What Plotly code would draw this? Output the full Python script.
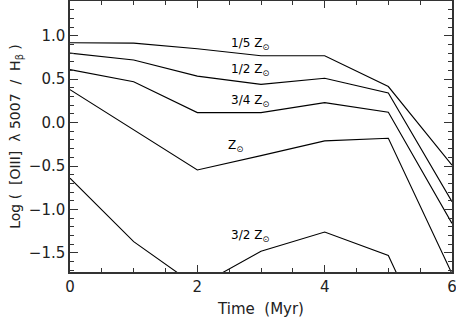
import plotly.graph_objects as go

time = [0, 1, 2, 3, 4, 5, 6]
z_1_5 = [0.92, 0.915, 0.85, 0.77, 0.77, 0.415, -0.49]
z_1_2 = [0.80, 0.72, 0.535, 0.44, 0.51, 0.34, -0.91]
z_3_4 = [0.61, 0.47, 0.115, 0.115, 0.23, 0.12, -1.16]
z_1 = [0.38, -0.08, -0.545, -0.38, -0.21, -0.18, -1.74]
z_3_2 = [-0.64, -1.37, -1.89, -1.48, -1.26, -1.53, -3.1]

labels = ["1/5 Z<sub>⊙</sub>", "1/2 Z<sub>⊙</sub>", "3/4 Z<sub>⊙</sub>", "Z<sub>⊙</sub>", "3/2 Z<sub>⊙</sub>"]
label_x = [2.82, 2.82, 2.82, 2.6, 2.82]
label_y = [0.91, 0.60, 0.25, -0.27, -1.31]

FONT = "DejaVu Sans, Verdana, sans-serif"
NB = "\u00a0"

fig = go.Figure()
for ys in [z_1_5, z_1_2, z_3_4, z_1, z_3_2]:
    fig.add_trace(go.Scatter(x=time, y=ys, mode="lines",
                             line=dict(color="black", width=1.1),
                             showlegend=False, hoverinfo="skip"))

for t, lx, ly in zip(labels, label_x, label_y):
    fig.add_annotation(x=lx, y=ly, text=t, showarrow=False,
                       font=dict(size=12, color="black", family=FONT))

axis_common = dict(
    showgrid=False, zeroline=False, showline=True, linecolor="#333",
    linewidth=1.5, mirror="allticks", ticks="inside", tickcolor="#333",
    tickfont=dict(size=15, color="#222", family=FONT),
    ticklabeloverflow="allow", automargin=False,
)

fig.update_xaxes(range=[0, 6], tickvals=[0, 2, 4, 6], ticklen=7,
                 minor=dict(dtick=0.5, ticks="inside", ticklen=4, tickcolor="#333"),
                 title=dict(text="Time" + NB + NB + "(Myr)", standoff=9,
                            font=dict(size=15, color="#222", family=FONT)),
                 **axis_common)
ytitle = ("Log" + NB + "(" + NB + NB + "[OIII]" + NB + NB + "λ" + NB + "5007" + NB + NB + "/"
          + NB + NB + "H<sub>β</sub>" + NB + ")")
fig.update_yaxes(range=[-1.72, 1.4], tickvals=[-1.5, -1.0, -0.5, 0.0, 0.5, 1.0],
                 ticktext=["−1.5", "−1.0", "−0.5", "0.0", "0.5", "1.0"], ticklen=8,
                 minor=dict(dtick=0.1, ticks="inside", ticklen=4, tickcolor="#333"),
                 title=dict(text=ytitle, standoff=5,
                            font=dict(size=14, color="#222", family=FONT)),
                 **axis_common)

fig.update_layout(width=456, height=319, plot_bgcolor="white", paper_bgcolor="white",
                  margin=dict(l=70, r=4, t=1, b=47))

fig.write_html("out.html", config={"displayModeBar": False},
               post_script="document.body.style.margin='0';document.body.style.padding='0';")
